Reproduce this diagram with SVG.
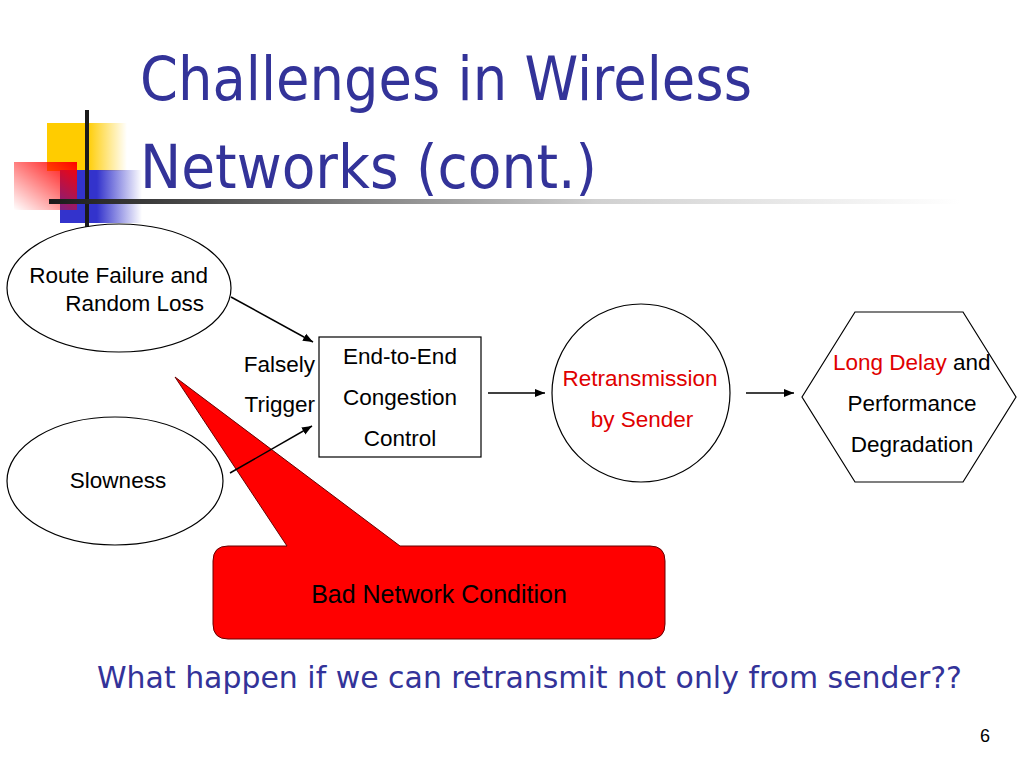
<svg xmlns="http://www.w3.org/2000/svg" width="1024" height="768" viewBox="0 0 1024 768">
<defs>
<linearGradient id="gY" x1="0" y1="0" x2="1" y2="0"><stop offset="0" stop-color="#FFCC00"/><stop offset="0.5" stop-color="#FFCC00"/><stop offset="1" stop-color="#FFCC00" stop-opacity="0"/></linearGradient>
<linearGradient id="gB" x1="0" y1="0" x2="1" y2="0"><stop offset="0" stop-color="#3333CC"/><stop offset="0.45" stop-color="#3333CC"/><stop offset="1" stop-color="#3333CC" stop-opacity="0"/></linearGradient>
<linearGradient id="gR" x1="1" y1="0" x2="0" y2="1"><stop offset="0" stop-color="#FF0000"/><stop offset="1" stop-color="#FF0000" stop-opacity="0"/></linearGradient>
<linearGradient id="gL" gradientUnits="userSpaceOnUse" x1="49" y1="0" x2="960" y2="0"><stop offset="0" stop-color="#1a1a1a"/><stop offset="0.6" stop-color="#d0d0d0"/><stop offset="1" stop-color="#ffffff"/></linearGradient>
<marker id="arr" viewBox="0 0 10 10" refX="10" refY="5" markerWidth="10" markerHeight="10" markerUnits="userSpaceOnUse" orient="auto"><path d="M0,1 L10,5 L0,9 z" fill="#000"/></marker>
<style>
.t{font-family:"Liberation Sans",Arial,sans-serif;font-size:22.5px;fill:#000}
.r{fill:#E00000}
.title{font-family:"DejaVu Sans","Liberation Sans",sans-serif;fill:#333399}
.sh{fill:#fff;stroke:#000;stroke-width:1.2}
.c{stroke:#000;stroke-width:1.5;fill:none;marker-end:url(#arr)}
</style>
</defs>
<rect width="1024" height="768" fill="#fff"/>
<g id="decor">
<rect x="47" y="123" width="80" height="48" fill="url(#gY)"/>
<rect x="60" y="170" width="82" height="53" fill="url(#gB)"/>
<rect x="14" y="162" width="63" height="48" fill="url(#gR)"/>
<rect x="85" y="110" width="4" height="118" fill="#1a1a1a"/>
<rect x="49" y="199" width="911" height="5" fill="url(#gL)"/>
</g>
<g id="title">
<text class="title" x="140" y="100" font-size="60" textLength="612" lengthAdjust="spacingAndGlyphs">Challenges in Wireless</text>
<text class="title" x="140" y="188" font-size="60" textLength="457" lengthAdjust="spacingAndGlyphs">Networks (cont.)</text>
</g>
<g id="callout">
<path d="M228,546 L287,546 L175,377 L400,546 L650,546 Q665,546 665,561 L665,624 Q665,639 650,639 L228,639 Q213,639 213,624 L213,561 Q213,546 228,546 Z" fill="#FF0000" stroke="#600" stroke-width="1"/>
<text class="t" x="439" y="603" text-anchor="middle" style="font-size:25px">Bad Network Condition</text>
</g>
<g id="route-failure">
<ellipse class="sh" cx="119" cy="288" rx="112" ry="64"/>
<text class="t" x="208" y="283" text-anchor="end">Route Failure and</text>
<text class="t" x="204" y="311" text-anchor="end">Random Loss</text>
</g>
<g id="slowness">
<ellipse class="sh" cx="115" cy="481" rx="108" ry="64"/>
<text class="t" x="118" y="488" text-anchor="middle">Slowness</text>
</g>
<g id="labels">
<text class="t" x="315" y="372" text-anchor="end">Falsely</text>
<text class="t" x="315" y="412" text-anchor="end">Trigger</text>
</g>
<g id="congestion">
<rect class="sh" x="319" y="337" width="162" height="120"/>
<text class="t" x="400" y="364" text-anchor="middle">End-to-End</text>
<text class="t" x="400" y="405" text-anchor="middle">Congestion</text>
<text class="t" x="400" y="446" text-anchor="middle">Control</text>
</g>
<g id="retransmission">
<circle class="sh" cx="641" cy="393" r="89"/>
<text class="t r" x="640" y="386" text-anchor="middle">Retransmission</text>
<text class="t r" x="642" y="427" text-anchor="middle">by Sender</text>
</g>
<g id="long-delay">
<polygon class="sh" points="802,397 855,312 963,312 1016,397 963,482 855,482"/>
<text class="t" x="833" y="370"><tspan class="r">Long Delay</tspan> and</text>
<text class="t" x="912" y="411" text-anchor="middle">Performance</text>
<text class="t" x="912" y="452" text-anchor="middle">Degradation</text>
</g>
<g id="connectors">
<line class="c" x1="231" y1="297" x2="313" y2="342"/>
<line class="c" x1="230" y1="473" x2="312" y2="426"/>
<line class="c" x1="488" y1="393" x2="545" y2="393"/>
<line class="c" x1="746" y1="393" x2="794" y2="393"/>
</g>
<g id="footer">
<text x="97" y="688" font-family="DejaVu Sans,'Liberation Sans',sans-serif" font-size="30" fill="#333399" textLength="865" lengthAdjust="spacingAndGlyphs">What happen if we can retransmit not only from sender??</text>
<text x="985" y="742" font-family="'Liberation Sans',sans-serif" font-size="18" fill="#000" text-anchor="middle">6</text>
</g>
</svg>
